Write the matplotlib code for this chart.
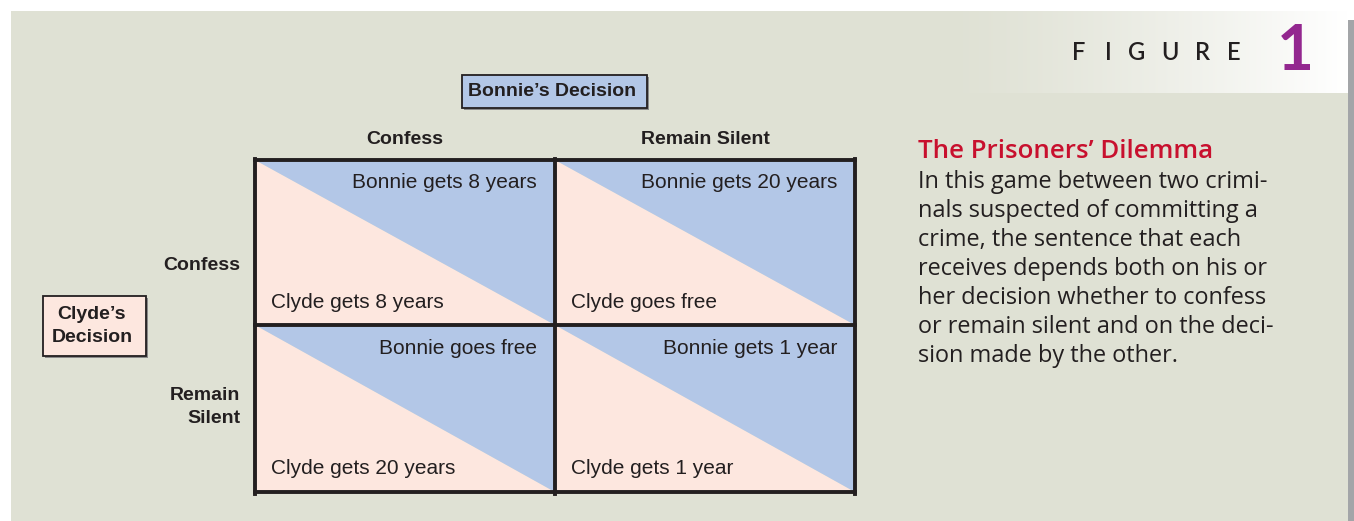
import numpy as np
import matplotlib
matplotlib.use("Agg")
import matplotlib.pyplot as plt
from matplotlib.patches import Rectangle, Polygon

# ---- data ----
col_labels = ["Confess", "Remain Silent"]
row_labels = ["Confess", "Remain\nSilent"]
bonnie_outcomes = [["Bonnie gets 8 years", "Bonnie gets 20 years"],
                   ["Bonnie goes free", "Bonnie gets 1 year"]]
clyde_outcomes = [["Clyde gets 8 years", "Clyde goes free"],
                  ["Clyde gets 20 years", "Clyde gets 1 year"]]
col_title = "Bonnie\u2019s Decision"
row_title = "Clyde\u2019s\nDecision"
fig_word = "FIGURE"
fig_num = "1"
caption_title = "The Prisoners\u2019 Dilemma"
caption_lines = ["In this game between two crimi-",
                 "nals suspected of committing a",
                 "crime, the sentence that each",
                 "receives depends both on his or",
                 "her decision whether to confess",
                 "or remain silent and on the deci-",
                 "sion made by the other."]

# ---- style ----
BG = "#dfe1d4"
BLUE = "#b3c7e7"
PINK = "#fde7df"
INK = "#231f20"
RED = "#c8102e"
PURPLE = "#93278f"
SANS = ["Liberation Sans", "DejaVu Sans"]
BODY = ["Open Sans", "DejaVu Sans"]

W, H = 1354, 521
fig = plt.figure(figsize=(W / 100, H / 100), dpi=100)
fig.patch.set_facecolor("white")
ax = fig.add_axes([0, 0, 1, 1])

# panel + shadow
ax.add_patch(Rectangle((1346, 20), 8, H - 20, facecolor="#a3a5a8", edgecolor="none", zorder=0))
ax.add_patch(Rectangle((11, 11), 1337, H - 11, facecolor=BG, edgecolor="none", zorder=1))

# header gradient
grad = np.linspace(0, 1, 256) ** 1.3
bg_rgb = np.array(matplotlib.colors.to_rgb(BG))
img = bg_rgb[None, :] * (1 - grad[:, None]) + np.array([1, 1, 1])[None, :] * grad[:, None]
ax.imshow(img[None, :, :], extent=(940, 1348, 93, 11), aspect="auto", zorder=2)
ax.set_xlim(0, W)
ax.set_ylim(H, 0)
ax.axis("off")

letter_x = [1079, 1108, 1137, 1170, 1203, 1234]
for lx, ch in zip(letter_x, fig_word):
    ax.text(lx, 53, ch, ha="center", va="center", fontsize=17, color=INK,
            family=["Lato", "DejaVu Sans"], fontweight="semibold", zorder=3)
ax.text(1295, 52, fig_num, ha="center", va="center", fontsize=46, color=PURPLE,
        family=["Lato", "DejaVu Sans"], fontweight="bold", zorder=3)

# grid
x0, x1, x2 = 255, 555, 855
y0, y1, y2 = 160, 325, 492
xs = [x0, x1, x2]
ys = [y0, y1, y2]
for r in range(2):
    for c in range(2):
        L, R = xs[c], xs[c + 1]
        T, B = ys[r], ys[r + 1]
        ax.add_patch(Polygon([(L, T), (L, B), (R, B)], closed=True, facecolor=PINK,
                             edgecolor="none", zorder=3))
        ax.add_patch(Polygon([(L, T), (R, T), (R, B)], closed=True, facecolor=BLUE,
                             edgecolor="none", zorder=3))
        ax.text(R - 18, T + 23, bonnie_outcomes[r][c], ha="right", va="center",
                fontsize=15, color=INK, family=SANS, zorder=5)
        ax.text(L + 16, B - 23, clyde_outcomes[r][c], ha="left", va="center",
                fontsize=15, color=INK, family=SANS, zorder=5)
for x in xs:
    ax.plot([x, x], [y0 - 1.5, y2 + 1.5], color=INK, lw=2.8, zorder=6, solid_capstyle="projecting")
for y in ys:
    ax.plot([x0, x2], [y, y], color=INK, lw=2.8, zorder=6, solid_capstyle="projecting")

# column headers
for c, lab in enumerate(col_labels):
    ax.text((xs[c] + xs[c + 1]) / 2, 139, lab, ha="center",
            va="center", fontsize=14, fontweight="bold", color=INK, family=SANS, zorder=5)
# row headers
ax.text(240, 265, row_labels[0], ha="right", va="center", fontsize=14,
        fontweight="bold", color=INK, family=SANS, linespacing=1.5, zorder=5)
ax.text(240, 407, row_labels[1], ha="right", va="center", fontsize=14,
        fontweight="bold", color=INK, family=SANS, linespacing=1.5, zorder=5)

# title boxes
ax.add_patch(Rectangle((464, 77), 185, 33, facecolor="#8a8a8a", edgecolor="none", zorder=3))
ax.add_patch(Rectangle((462, 75), 185, 33, facecolor=BLUE, edgecolor=INK, lw=1.3, zorder=4))
ax.text(552, 91, col_title, ha="center", va="center", fontsize=14,
        fontweight="bold", color=INK, family=SANS, zorder=5)
ax.add_patch(Rectangle((45, 298), 103, 60, facecolor="#8a8a8a", edgecolor="none", zorder=3))
ax.add_patch(Rectangle((43, 296), 103, 60, facecolor=PINK, edgecolor=INK, lw=1.3, zorder=4))
ax.text(92, 326, row_title, ha="center", va="center", fontsize=14,
        fontweight="bold", color=INK, family=SANS, linespacing=1.4, zorder=5)

# caption
ax.text(918, 151, caption_title, ha="left", va="center", fontsize=18.6, color=RED,
        family=BODY, fontweight="semibold", zorder=5)
for i, line in enumerate(caption_lines):
    ax.text(918, 182 + 29 * i, line, ha="left", va="center", fontsize=16.9,
            color=INK, family=BODY, zorder=5)

fig.savefig("out.png", dpi=100, facecolor="white")
